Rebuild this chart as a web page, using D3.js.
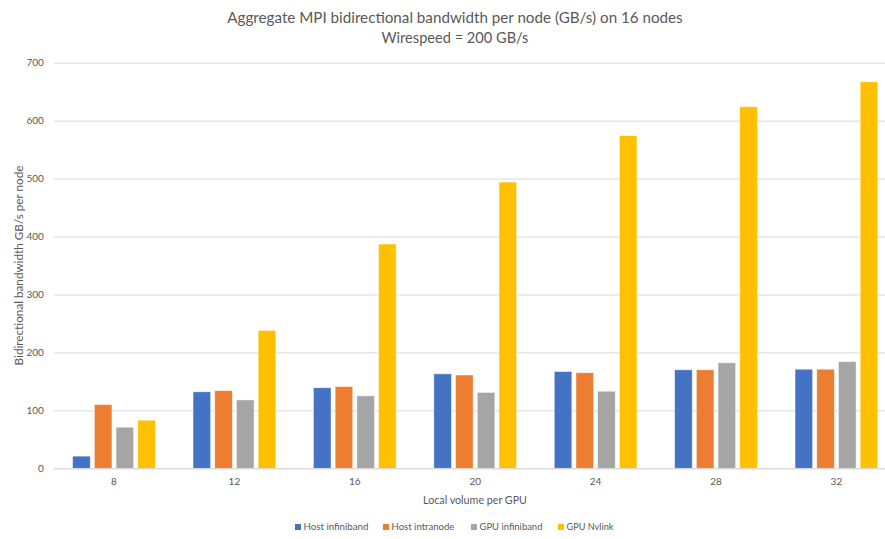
<!DOCTYPE html>
<html><head><meta charset="utf-8">
<script src="https://cdn.jsdelivr.net/npm/d3@7"></script>
<style>
html,body{margin:0;padding:0;background:#fff;}
svg{display:block;font-family:Lato,"Open Sans",sans-serif;}
</style></head>
<body><svg id="c" width="885" height="539"></svg>
<script>
const categories = ["8","12","16","20","24","28","32"];
const seriesNames = ["Host infiniband","Host intranode","GPU infiniband","GPU Nvlink"];
const hostInfiniband = [21,132,139,163,167,170,171];
const hostIntranode  = [110,134,141,161,165,170,171];
const gpuInfiniband  = [71,118,125,131,133,182,184];
const gpuNvlink      = [83,238,387,494,574,624,667];
const seriesValues = [hostInfiniband, hostIntranode, gpuInfiniband, gpuNvlink];
const colors = ["#4472C4","#ED7D31","#A5A5A5","#FFC000"];
const yTicks = [0,100,200,300,400,500,600,700];
const titleLines = ["Aggregate MPI bidirectional bandwidth per node (GB/s) on 16 nodes","Wirespeed = 200 GB/s"];
const xTitle = "Local volume per GPU";
const yTitle = "Bidirectional bandwidth GB/s per node";

const svg = d3.select("#c");
const L = 53.8, R = 896.6, T = 62.7, B = 468.3;
const txt = "#595959";

const x0 = d3.scaleBand().domain(categories).range([L,R]).paddingInner(0.313).paddingOuter(0.1565);
const x1 = d3.scaleBand().domain(seriesNames).range([0,x0.bandwidth()]).paddingInner(0.19);
const y = d3.scaleLinear().domain([0,700]).range([B,T]);

function fit(sel, w){ // scale font-size so text has given width
  const n = sel.node(); const cur = n.getComputedTextLength();
  const fs = parseFloat(sel.attr("font-size"));
  sel.attr("font-size", fs*w/cur);
}

// gridlines
const yAxis = d3.axisLeft(y).tickValues(yTicks).tickSize(-(R-L)).tickPadding(10).tickFormat(d3.format("d"));
const gy = svg.append("g").attr("transform",`translate(${L},0)`).call(yAxis);
gy.select(".domain").remove();
gy.selectAll(".tick line").attr("stroke","#D9D9D9").attr("stroke-width",1);
gy.selectAll(".tick text").attr("fill",txt).attr("font-size",10).attr("font-family","Lato, sans-serif");

// bars
const groups = svg.append("g").selectAll("g").data(categories).join("g")
  .attr("transform",c=>`translate(${x0(c)},0)`);
groups.selectAll("rect").data((c,i)=>seriesNames.map((s,j)=>({s,j,v:seriesValues[j][i]}))).join("rect")
  .attr("x",d=>x1(d.s)).attr("width",x1.bandwidth())
  .attr("y",d=>y(d.v)).attr("height",d=>y(0)-y(d.v))
  .attr("fill",d=>colors[d.j]).attr("stroke","#fff").attr("stroke-opacity",0.6).attr("stroke-width",0.75);

// x axis
const xAxis = d3.axisBottom(x0).tickSize(0).tickPadding(10);
const gx = svg.append("g").attr("transform",`translate(0,${B})`).call(xAxis);
gx.select(".domain").attr("stroke","#D9D9D9").attr("d",`M${L},0.5H${R}`);
gx.selectAll(".tick text").attr("fill",txt).attr("font-size",10).attr("font-family","Lato, sans-serif");

// titles
const t1 = svg.append("text").attr("x",455).attr("y",23).attr("text-anchor","middle")
  .attr("fill",txt).attr("font-size",14).text(titleLines[0]);
fit(t1,456);
const t2 = svg.append("text").attr("x",455).attr("y",43).attr("text-anchor","middle")
  .attr("fill",txt).attr("font-size",14).text(titleLines[1]);
fit(t2,147);
const xt = svg.append("text").attr("x",475).attr("y",504).attr("text-anchor","middle")
  .attr("fill",txt).attr("font-size",11).text(xTitle);
fit(xt,104);
const yt = svg.append("text").attr("transform",`translate(23,${(T+B)/2}) rotate(-90)`).attr("text-anchor","middle")
  .attr("fill",txt).attr("font-size",11).text(yTitle);
fit(yt,200);

// legend
const legX = [295,383,471,558];
const legW = [65,63,63,47];
const lg = svg.append("g").selectAll("g").data(seriesNames).join("g")
  .attr("transform",(d,i)=>`translate(${legX[i]},530)`);
lg.append("rect").attr("x",0).attr("y",-6).attr("width",6).attr("height",6).attr("fill",(d,i)=>colors[i]);
lg.append("text").attr("x",8.5).attr("y",0).attr("fill",txt).attr("font-size",10).text(d=>d)
  .each(function(d,i){ fit(d3.select(this), legW[i]); });
</script></body></html>
